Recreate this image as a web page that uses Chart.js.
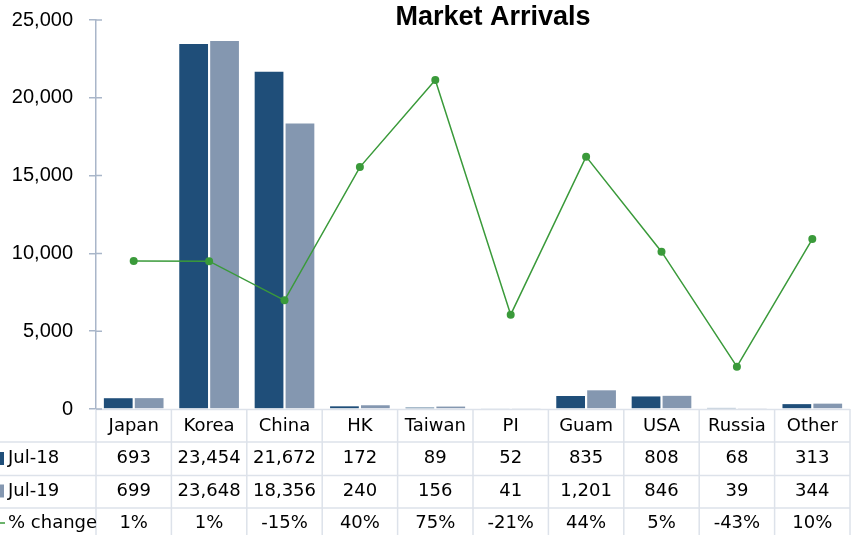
<!DOCTYPE html>
<html>
<head>
<meta charset="utf-8">
<script src="https://cdn.jsdelivr.net/npm/chart.js@4/dist/chart.umd.min.js"></script>
<style>
  html, body { margin: 0; padding: 0; background: #ffffff; overflow: hidden; }
  #wrap { width: 851px; height: 535px; position: relative; }
</style>
</head>
<body>
<div id="wrap"><canvas id="c" width="851" height="535"></canvas></div>
<script>
const chartTitle = 'Market Arrivals';
const categories = ['Japan', 'Korea', 'China', 'HK', 'Taiwan', 'PI', 'Guam', 'USA', 'Russia', 'Other'];
const jul18 = [693, 23454, 21672, 172, 89, 52, 835, 808, 68, 313];
const jul19 = [699, 23648, 18356, 240, 156, 41, 1201, 846, 39, 344];
const pctChange = [0.9, 0.8, -15.3, 39.5, 75.3, -21.2, 43.8, 4.7, -42.6, 9.9];
const pctLabels = ['1%', '1%', '-15%', '40%', '75%', '-21%', '44%', '5%', '-43%', '10%'];
const seriesNames = ['Jul-18', 'Jul-19', '% change'];
const yTicks = [0, 5000, 10000, 15000, 20000, 25000];

const darkBlue = '#1f4e79';
const lightBlue = '#8497b0';
const green = '#3a9a3a';
const axisColor = '#a9b6c9';
const gridColor = '#dde2ea';
const tableFont = '18px "DejaVu Sans"';

const fmt = v => v.toLocaleString('en-US');

const tablePlugin = {
  id: 'dataTable',
  afterDraw(chart) {
    const ctx = chart.ctx;
    const area = chart.chartArea;
    const x = chart.scales.x;
    const n = categories.length;
    const colW = (area.right - area.left) / n;
    const top = area.bottom;
    const rows = [top, top + 33, top + 66.5, top + 99];
    const bottom = chart.height;
    ctx.save();
    ctx.strokeStyle = gridColor;
    ctx.lineWidth = 1.5;
    ctx.beginPath();
    ctx.moveTo(area.left, rows[0] + 0.5); ctx.lineTo(area.right, rows[0] + 0.5);
    for (let r = 1; r < rows.length; r++) {
      ctx.moveTo(0, rows[r]); ctx.lineTo(area.right, rows[r]);
    }
    for (let i = 0; i <= n; i++) {
      const xx = area.left + i * colW;
      ctx.moveTo(xx, rows[0]); ctx.lineTo(xx, bottom);
    }
    ctx.stroke();

    ctx.fillStyle = '#000';
    ctx.font = tableFont;
    ctx.textAlign = 'center';
    ctx.textBaseline = 'middle';
    const centers = [rows[0] + 17, rows[1] + 16.5, rows[2] + 15.5, rows[3] + 15];
    for (let i = 0; i < n; i++) {
      const cx = x.getPixelForValue(i);
      ctx.fillText(categories[i], cx, centers[0]);
      ctx.fillText(fmt(jul18[i]), cx, centers[1]);
      ctx.fillText(fmt(jul19[i]), cx, centers[2]);
      ctx.fillText(pctLabels[i], cx, centers[3]);
    }
    ctx.textAlign = 'left';
    ctx.fillText(seriesNames[0], 8, centers[1]);
    ctx.fillText(seriesNames[1], 8, centers[2]);
    ctx.fillText(seriesNames[2], 8, centers[3]);
    ctx.fillStyle = darkBlue;
    ctx.fillRect(0, centers[1] - 6.5, 4, 13);
    ctx.fillStyle = lightBlue;
    ctx.fillRect(0, centers[2] - 6.5, 4, 13);
    ctx.strokeStyle = green;
    ctx.lineWidth = 1.5;
    ctx.beginPath();
    ctx.moveTo(0, centers[3]); ctx.lineTo(5, centers[3]);
    ctx.stroke();

    const y = chart.scales.y;
    ctx.strokeStyle = axisColor;
    ctx.lineWidth = 1.5;
    ctx.beginPath();
    y.ticks.forEach(t => {
      const py = y.getPixelForValue(t.value);
      ctx.moveTo(area.left, py); ctx.lineTo(area.left + 6, py);
    });
    ctx.stroke();

    ctx.fillStyle = '#000';
    ctx.font = 'bold 27px "Liberation Sans"';
    ctx.textAlign = 'center';
    ctx.textBaseline = 'alphabetic';
    ctx.fillText(chartTitle, 493, 25);
    ctx.restore();
  }
};

new Chart(document.getElementById('c'), {
  type: 'bar',
  data: {
    labels: categories,
    datasets: [
      {
        type: 'line', label: seriesNames[2], data: pctChange, yAxisID: 'y1', order: 0,
        borderColor: green, backgroundColor: green, borderWidth: 1.5,
        pointRadius: 4, pointBackgroundColor: green, pointBorderWidth: 0, tension: 0
      },
      {
        label: seriesNames[0], data: jul18, yAxisID: 'y', order: 1,
        backgroundColor: darkBlue, borderWidth: 0,
        categoryPercentage: 0.82, barPercentage: 0.93
      },
      {
        label: seriesNames[1], data: jul19, yAxisID: 'y', order: 2,
        backgroundColor: lightBlue, borderWidth: 0,
        categoryPercentage: 0.82, barPercentage: 0.93
      }
    ]
  },
  options: {
    responsive: false,
    animation: false,
    layout: { autoPadding: false, padding: { top: 20, bottom: 126, left: 0, right: 1 } },
    plugins: { legend: { display: false }, title: { display: false }, tooltip: { enabled: false } },
    scales: {
      x: {
        display: false, offset: true,
        afterFit(scale) { scale.paddingLeft = 0; scale.paddingRight = 0; scale.paddingTop = 0; scale.paddingBottom = 0; }
      },
      y: {
        min: 0, max: 25000,
        afterFit(scale) { scale.width = 96; scale.paddingTop = 0; scale.paddingBottom = 0; scale.paddingLeft = 0; scale.paddingRight = 0; },
        afterBuildTicks(scale) { scale.ticks = yTicks.map(v => ({ value: v })); },
        ticks: {
          padding: 16,
          color: '#000',
          font: { family: '"Liberation Sans"', size: 20 },
          callback: v => fmt(v)
        },
        grid: { display: true, drawOnChartArea: false, drawTicks: true, tickLength: 7, color: axisColor, lineWidth: 1.5 },
        border: { display: true, color: axisColor, width: 1.5 }
      },
      y1: {
        display: false, min: -60, max: 100, position: 'right',
        afterFit(scale) { scale.width = 0; scale.paddingTop = 0; scale.paddingBottom = 0; scale.paddingLeft = 0; scale.paddingRight = 0; }
      }
    }
  },
  plugins: [tablePlugin]
});
</script>
</body>
</html>
